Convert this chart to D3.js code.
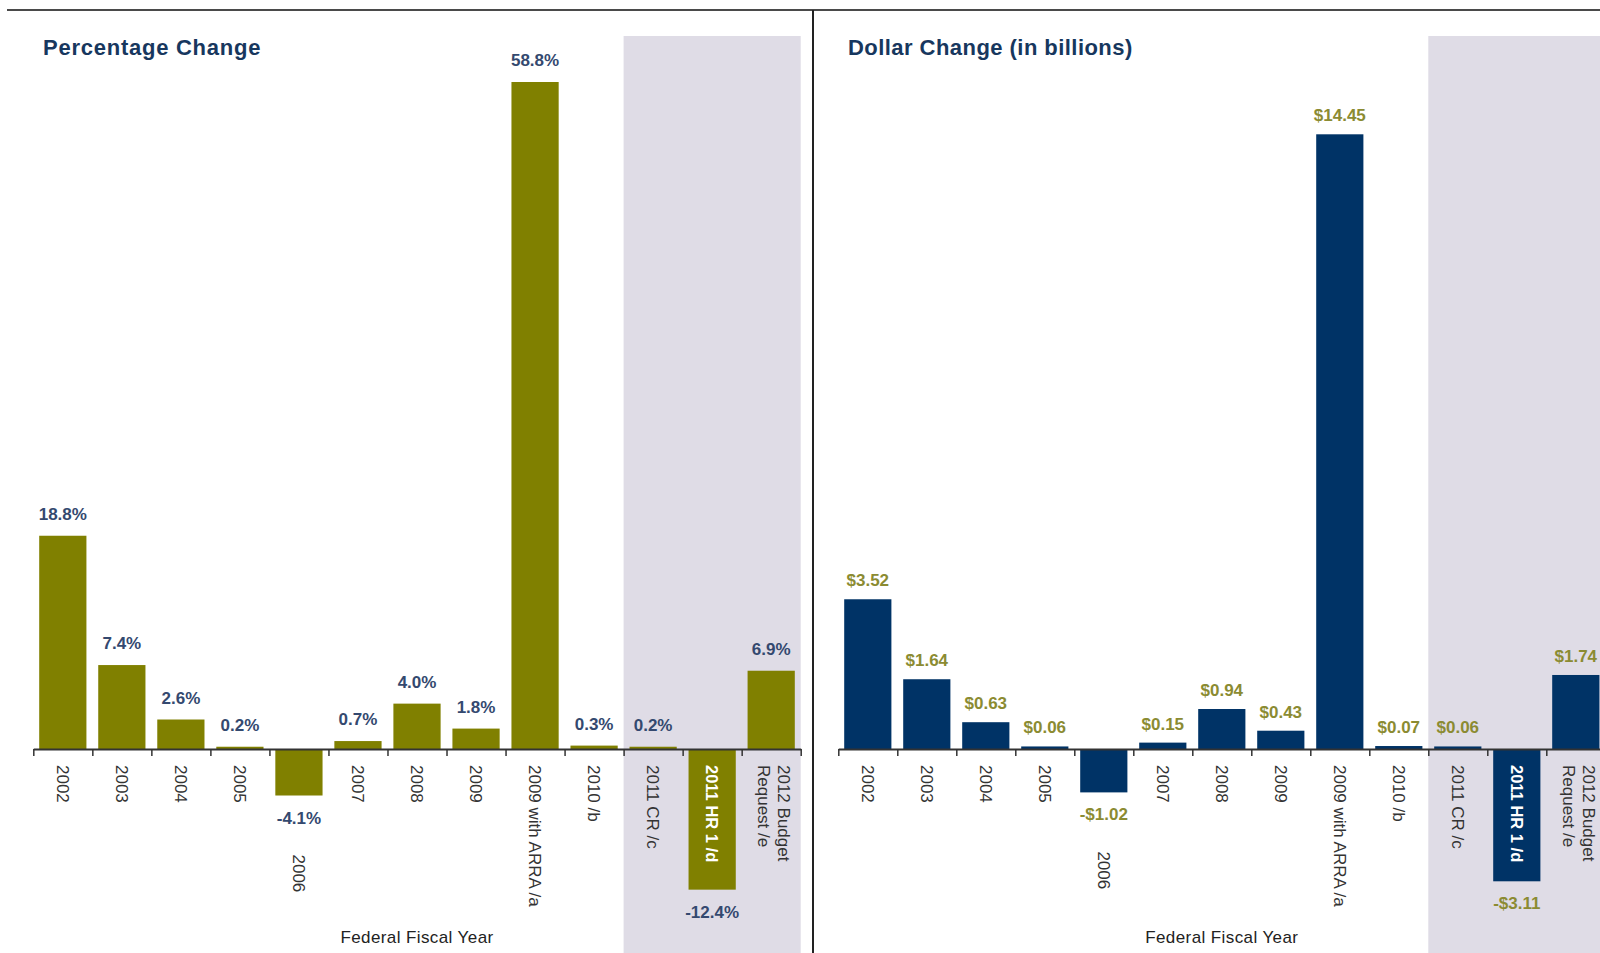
<!DOCTYPE html>
<html>
<head>
<meta charset="utf-8">
<script src="https://cdn.jsdelivr.net/npm/d3@7"></script>
<style>
  html, body { margin: 0; padding: 0; background: #fff; }
  svg { display: block; font-family: "Liberation Sans", Arial, sans-serif; }
</style>
</head>
<body>
<svg id="chart" width="1600" height="953"></svg>
<script>
// ---- Data ----
const categories = [
  ["2002"], ["2003"], ["2004"], ["2005"], ["2006"], ["2007"], ["2008"], ["2009"],
  ["2009 with ARRA /a"], ["2010 /b"], ["2011 CR /c"], ["2011 HR 1 /d"],
  ["2012 Budget", "Request /e"]
];
const percentChange = [18.8, 7.4, 2.6, 0.2, -4.1, 0.7, 4.0, 1.8, 58.8, 0.3, 0.2, -12.4, 6.9];
const dollarChange  = [3.52, 1.64, 0.63, 0.06, -1.02, 0.15, 0.94, 0.43, 14.45, 0.07, 0.06, -3.11, 1.74];
const panelTitles = ["Percentage Change", "Dollar Change (in billions)"];
const axisTitle = "Federal Fiscal Year";
const shadedFrom = "2011 CR /c";      // projected years start here
const insideLabel = "2011 HR 1 /d";   // category label drawn inside its bar

const svg = d3.select("#chart");
const keys = categories.map(c => c.join(" "));

// frame lines
svg.append("line").attr("x1", 7).attr("x2", 1600).attr("y1", 10).attr("y2", 10)
  .attr("stroke", "#4a4a4a").attr("stroke-width", 2);
svg.append("line").attr("x1", 813).attr("x2", 813).attr("y1", 10).attr("y2", 953)
  .attr("stroke", "#222").attr("stroke-width", 2);

function panel(cfg) {
  const g = svg.append("g");
  const x = d3.scaleBand().domain(keys).range([cfg.x0, cfg.x1])
    .paddingInner(0.2).paddingOuter(0.1);
  const step = x.step();
  const y = d3.scaleLinear().domain([0, cfg.maxV]).range([cfg.base, cfg.topY]);

  // shaded projection region
  const sx = x(shadedFrom) - step * 0.1;
  g.append("rect").attr("x", sx).attr("y", 36)
    .attr("width", cfg.x1 - sx).attr("height", 953 - 36)
    .attr("fill", "#dfdce6");

  // title
  g.append("text").attr("x", cfg.titleX).attr("y", 55)
    .attr("font-size", 22).attr("font-weight", "bold")
    .attr("letter-spacing", cfg.titleSpacing).attr("fill", "#17375e")
    .text(cfg.title);

  // bars
  g.selectAll("rect.bar").data(cfg.values).join("rect")
    .attr("class", "bar")
    .attr("x", (d, i) => x(keys[i]))
    .attr("width", x.bandwidth())
    .attr("y", d => d >= 0 ? y(d) : y(0))
    .attr("height", d => Math.abs(y(d) - y(0)))
    .attr("fill", cfg.barColor);

  // axis with ticks at band boundaries
  const tickScale = d3.scaleLinear().domain([0, keys.length]).range([cfg.x0, cfg.x1]);
  const ax = g.append("g").attr("transform", `translate(0,${cfg.base})`)
    .call(d3.axisBottom(tickScale).tickValues(d3.range(keys.length + 1))
      .tickFormat("").tickSize(7).tickSizeOuter(0));
  ax.select(".domain").attr("stroke", "#333").attr("stroke-width", 2);
  ax.selectAll(".tick line").attr("stroke", "#333").attr("stroke-width", 1.5);

  // value labels
  g.selectAll("text.val").data(cfg.values).join("text")
    .attr("class", "val")
    .attr("x", (d, i) => x(keys[i]) + x.bandwidth() / 2)
    .attr("y", d => d >= 0 ? y(d) - cfg.labelGap : y(d) + 28)
    .attr("text-anchor", "middle")
    .attr("font-size", 17).attr("font-weight", "bold")
    .attr("fill", cfg.labelColor)
    .text(cfg.fmt);

  // category labels (rotated)
  categories.forEach((lines, i) => {
    const key = keys[i];
    const v = cfg.values[i];
    const cx = x(key) + x.bandwidth() / 2;
    let y0 = cfg.base + 16;
    const inside = key === insideLabel;
    if (v < 0 && !inside) y0 = y(v) + 28 + 31;
    const t = g.append("text")
      .attr("transform", `translate(${cx + (lines.length > 1 ? 3 : 0)},${y0}) rotate(90)`)
      .attr("font-size", inside ? 16.5 : 17)
      .attr("font-weight", inside ? "bold" : "normal")
      .attr("fill", inside ? "#ffffff" : "#333");
    lines.forEach((ln, j) => {
      const off = (j - (lines.length - 1) / 2) * 20;
      t.append("tspan").attr("x", 0).attr("y", off).attr("dy", "0.35em").text(ln);
    });
  });

  // axis title
  g.append("text").attr("x", (cfg.x0 + cfg.x1) / 2).attr("y", 943)
    .attr("text-anchor", "middle").attr("font-size", 17)
    .attr("letter-spacing", 0.4).attr("fill", "#222")
    .text(axisTitle);
}

panel({
  title: panelTitles[0], titleX: 43, titleSpacing: 0.75,
  x0: 33.3, x1: 800.7, base: 749, maxV: 58.8, topY: 82,
  values: percentChange, barColor: "#808000", labelColor: "#34496f", labelGap: 16,
  fmt: d => (d < 0 ? "-" : "") + d3.format(".1f")(Math.abs(d)) + "%"
});
panel({
  title: panelTitles[1], titleX: 848, titleSpacing: 0.45,
  x0: 838.3, x1: 1605.3, base: 749, maxV: 14.45, topY: 134.3,
  values: dollarChange, barColor: "#003366", labelColor: "#8b8b32", labelGap: 13,
  fmt: d => (d < 0 ? "-$" : "$") + d3.format(".2f")(Math.abs(d))
});
</script>
</body>
</html>
